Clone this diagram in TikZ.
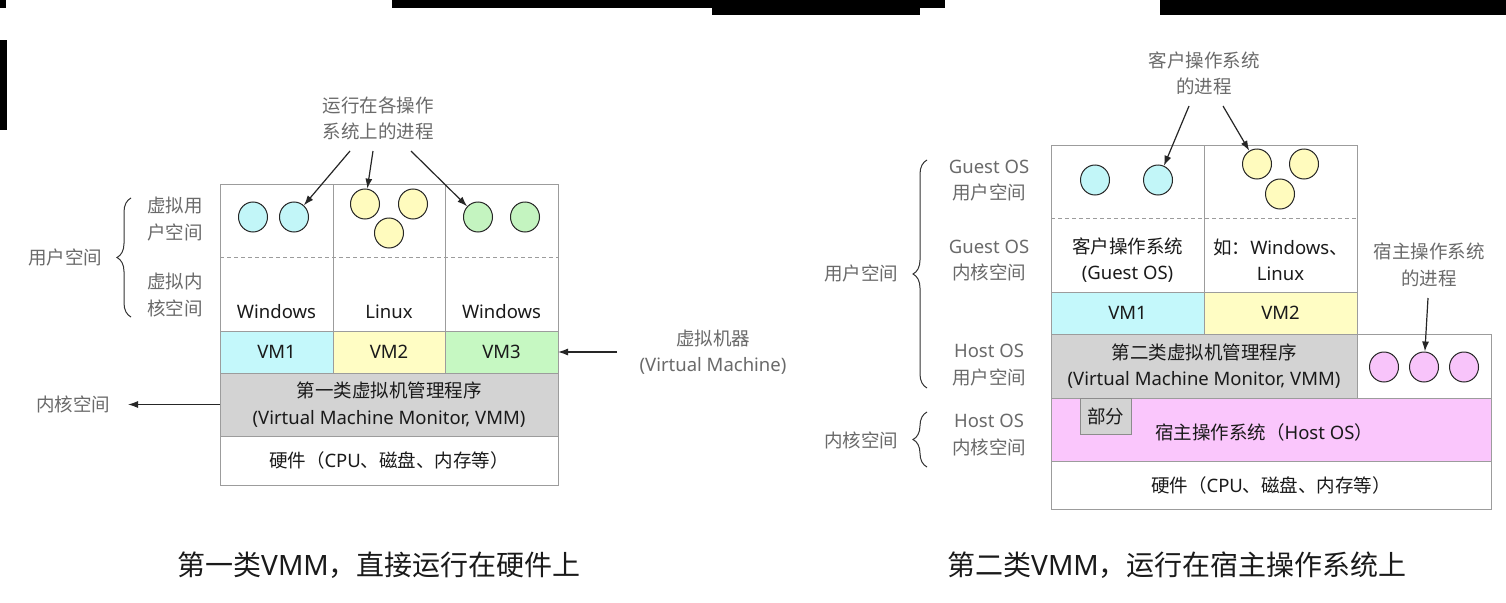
\documentclass[tikz,border=0pt]{standalone}
\usepackage{fontspec}
\setmainfont{Noto Sans}
\newfontfamily\latinfont{Noto Sans}
\newfontfamily\cjkfont{Noto Sans CJK SC}
\usetikzlibrary{arrows.meta,shapes.geometric,decorations.pathreplacing}
\XeTeXinterchartokenstate=1
\newXeTeXintercharclass\CJKcls
\count255="2E80
\loop\XeTeXcharclass\count255=\CJKcls\advance\count255 by 1\ifnum\count255<"A000\repeat
\count255="FF00
\loop\XeTeXcharclass\count255=\CJKcls\advance\count255 by 1\ifnum\count255<"FFF0\repeat
\XeTeXinterchartoks 0 \CJKcls={\cjkfont}
\XeTeXinterchartoks 4095 \CJKcls={\cjkfont}
\XeTeXinterchartoks \CJKcls 0={\latinfont}
\XeTeXinterchartoks 4095 0={\latinfont}
\definecolor{bordergray}{HTML}{9C9C9C}
\definecolor{vmcyan}{HTML}{C4F8FB}
\definecolor{vmyellow}{HTML}{FFFDC4}
\definecolor{vmgreen}{HTML}{C6F8C2}
\definecolor{vmmgray}{HTML}{D3D3D3}
\definecolor{hostpink}{HTML}{FAC6FC}
\definecolor{labelgray}{HTML}{6A6A6A}
\definecolor{textdark}{HTML}{1A1A1A}
\definecolor{pcyan}{HTML}{C2F6F8}
\definecolor{pyellow}{HTML}{FFFBBE}
\definecolor{pgreen}{HTML}{C4F4C0}
\definecolor{ppink}{HTML}{F8C4FA}
\begin{document}
\begin{tikzpicture}[x=1pt,y=-1pt,
  cell/.style={draw=bordergray, line width=1pt, inner sep=0pt, outer sep=0pt},
  txt/.style={font=\fontsize{18.5}{26.5}\selectfont, text=textdark, align=center, inner sep=0pt},
  lbl/.style={txt, text=labelgray},
  proc/.style={ellipse, draw=black!85, line width=1pt, minimum width=29pt, minimum height=30pt, inner sep=0pt},
  arr/.style={-{Latex[length=10pt,width=7pt]}, line width=1.2pt, draw=black!85},
  brc/.style={decorate, decoration={brace, amplitude=14pt}, line width=1pt, draw=black!80},
  sepline/.style={draw=bordergray, line width=1pt, dash pattern=on 4pt off 3pt},
  captxt/.style={font=\fontsize{28}{32}\selectfont, text=textdark, inner sep=0pt}]
\useasboundingbox (0,0) rectangle (1506,602);
\fill[white] (0,0) rectangle (1506,602);
% black bars
\fill[black] (0,0) rectangle (6,8);
\fill[black] (392,0) rectangle (945,8);
\fill[black] (712,8) rectangle (920,15);
\fill[black] (1160,0) rectangle (1506,15);
\fill[black] (0,40) rectangle (7,130);

% ===== Left diagram =====
\node[cell, minimum width=113pt, minimum height=147pt] (lc1) at (276.5,257.5) {};
\node[cell, minimum width=112pt, minimum height=147pt] (lc2) at (389,257.5) {};
\node[cell, minimum width=113pt, minimum height=147pt] (lc3) at (501.5,257.5) {};
\draw[sepline] (lc1.west) -- (lc3.east);
\node[cell, txt, fill=vmcyan, minimum width=113pt, minimum height=42pt] (vm1) at (276.5,352) {VM1};
\node[cell, txt, fill=vmyellow, minimum width=112pt, minimum height=42pt] (vm2) at (389,352) {VM2};
\node[cell, txt, fill=vmgreen, minimum width=113pt, minimum height=42pt] (vm3) at (501.5,352) {VM3};
\node[cell, txt, fill=vmmgray, minimum width=338pt, minimum height=63pt] (vmm) at (389,404.5) {第一类虚拟机管理程序\\(Virtual Machine Monitor, VMM)};
\node[cell, txt, fill=white, minimum width=338pt, minimum height=49pt] (hw1) at (389,460.5) {硬件（CPU、磁盘、内存等）};
\node[txt] (os1) at (276.5,312) {Windows};
\node[txt] (os2) at (389,312) {Linux};
\node[txt] (os3) at (501.5,312) {Windows};
\node[proc, fill=pcyan] (c11) at (253,217) {};
\node[proc, fill=pcyan] (c12) at (294,217) {};
\node[proc, fill=pyellow] (c21) at (365,204) {};
\node[proc, fill=pyellow] (c22) at (413,204) {};
\node[proc, fill=pyellow] (c23) at (389,233) {};
\node[proc, fill=pgreen] (c31) at (478,217) {};
\node[proc, fill=pgreen] (c32) at (525,217) {};
\node[lbl] (toplbl) at (378,118.5) {运行在各操作\\系统上的进程};
\coordinate (a1) at (350,151);
\coordinate (a2) at (373,151);
\coordinate (a3) at (411,151);
\draw[arr] (a1) -- (c12);
\draw[arr] (a2) -- (c21);
\draw[arr] (a3) -- (c31);
\node[lbl] (vus) at (175,219) {虚拟用\\户空间};
\node[lbl] (vks) at (175,295) {虚拟内\\核空间};
\draw[brc] (131,317) -- (131,198);
\node[lbl] (lus) at (65,257) {用户空间};
\node[lbl] (lks) at (73,404) {内核空间};
\coordinate (kend) at (128,404.5);
\draw[arr] (vmm.west) -- (kend);
\node[lbl] (vmlbl) at (713,352) {虚拟机器\\(Virtual Machine)};
\coordinate (vmstart) at (617,352);
\draw[arr] (vmstart) -- (vm3.east);
\node[captxt] (cap1) at (379,565) {第一类VMM，直接运行在硬件上};

% ===== Right diagram =====
\node[cell, minimum width=153pt, minimum height=147pt] (rc1) at (1127.5,218.5) {};
\node[cell, minimum width=153pt, minimum height=147pt] (rc2) at (1280.5,218.5) {};
\draw[sepline] (rc1.west) -- (rc2.east);
\node[txt] (gos1) at (1127.5,260) {客户操作系统\\(Guest OS)};
\node[txt] (gos2) at (1280.5,260) {如：Windows、\\Linux};
\node[cell, txt, fill=vmcyan, minimum width=153pt, minimum height=42pt] (rvm1) at (1127.5,313) {VM1};
\node[cell, txt, fill=vmyellow, minimum width=153pt, minimum height=42pt] (rvm2) at (1280.5,313) {VM2};
\node[cell, txt, fill=vmmgray, minimum width=306pt, minimum height=64pt] (rvmm) at (1204,366) {第二类虚拟机管理程序\\(Virtual Machine Monitor, VMM)};
\node[cell, fill=white, minimum width=134pt, minimum height=64pt] (hostp) at (1424,366) {};
\node[cell, fill=hostpink, minimum width=440pt, minimum height=63pt] (hostos) at (1271,429.5) {};
\node[txt] (hostostxt) at (1264,432) {宿主操作系统（Host OS）};
\node[cell, txt, fill=vmmgray, draw=black!45, minimum width=51pt, minimum height=36pt] (part) at (1105.5,416) {部分};
\node[cell, txt, fill=white, minimum width=440pt, minimum height=48pt] (hw2) at (1271,485) {硬件（CPU、磁盘、内存等）};
\node[proc, fill=pcyan] (g11) at (1095,180) {};
\node[proc, fill=pcyan] (g12) at (1158,180) {};
\node[proc, fill=pyellow] (g21) at (1257,164) {};
\node[proc, fill=pyellow] (g22) at (1304,164) {};
\node[proc, fill=pyellow] (g23) at (1280,194) {};
\node[proc, fill=ppink] (p1) at (1384,367) {};
\node[proc, fill=ppink] (p2) at (1424,367) {};
\node[proc, fill=ppink] (p3) at (1464,367) {};
\node[lbl] (rtoplbl) at (1204,73.5) {客户操作系统\\的进程};
\coordinate (b1) at (1189,106);
\coordinate (b2) at (1223,106);
\draw[arr] (b1) -- (g12);
\draw[arr] (b2) -- (g21);
\node[lbl] (hplbl) at (1429,265) {宿主操作系统\\的进程};
\coordinate (hp) at (1428,298);
\draw[arr] (hp) -- (p2);
\node[lbl] (gus) at (989,180.5) {Guest OS\\用户空间};
\node[lbl] (gks) at (989,260.5) {Guest OS\\内核空间};
\node[lbl] (hus) at (989,365) {Host OS\\用户空间};
\node[lbl] (hks) at (989,435) {Host OS\\内核空间};
\draw[brc] (927,388) -- (927,160);
\draw[brc] (927,467) -- (927,412);
\node[lbl] (rus) at (861,273) {用户空间};
\node[lbl] (rks) at (861,440) {内核空间};
\node[captxt] (cap2) at (1177,565) {第二类VMM，运行在宿主操作系统上};
\end{tikzpicture}
\end{document}
